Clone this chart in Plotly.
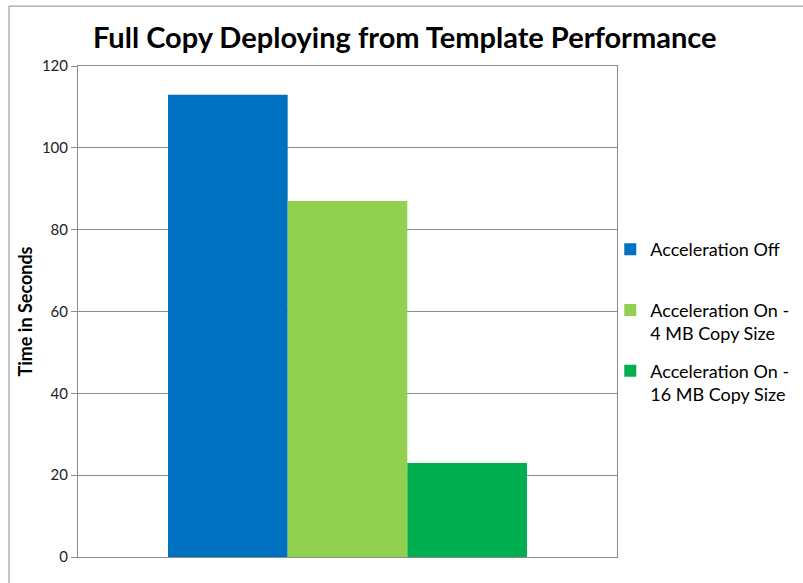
import plotly.graph_objects as go

categories = ["Full Copy"]
series_names = ["Acceleration Off<br>&nbsp;",
                "Acceleration On -<br>4 MB Copy Size",
                "Acceleration On -<br>16 MB Copy Size"]
series_values = [[113], [87], [23]]
series_colors = ["#0070C0", "#92D050", "#00B050"]
y_ticks = [0, 20, 40, 60, 80, 100, 120]

fig = go.Figure()
for i, (name, vals, col) in enumerate(zip(series_names, series_values, series_colors)):
    fig.add_trace(go.Bar(x=categories, y=vals, name=name, legendgroup=f"g{i}",
                         marker=dict(color=col, line=dict(width=0))))

fig.update_layout(
    width=803, height=583,
    barmode="group", bargap=0.334, bargroupgap=0,
    paper_bgcolor="white", plot_bgcolor="white",
    margin=dict(l=78, r=186, t=66, b=26, autoexpand=False),
    font=dict(family="Lato, Open Sans, sans-serif", color="#000000"),
    title=dict(text="<b>Full Copy Deploying from Template Performance</b>",
               x=0.504, xanchor="center", y=0.935, yanchor="middle",
               font=dict(size=29, family="Lato, sans-serif")),
    legend=dict(x=0.9875, xanchor="left", y=0.664, yanchor="top",
                font=dict(size=18), valign="top", bgcolor="rgba(0,0,0,0)",
                traceorder="grouped", tracegroupgap=11,
                itemwidth=30),
    showlegend=True,
)
fig.update_xaxes(showticklabels=False, ticks="", showline=True,
                 linecolor="#8c8c8c", linewidth=1, mirror=True)
fig.update_yaxes(range=[0, 120], tickvals=y_ticks, ticks="outside", ticklen=6,
                 tickcolor="#8c8c8c", showgrid=True, gridcolor="#8c8c8c",
                 gridwidth=1, showline=True, linecolor="#8c8c8c", mirror=True,
                 tickfont=dict(size=15, color="#222222"),
                 title=dict(text="<b>Time in Seconds</b>", font=dict(size=18),
                            standoff=4))

# chart area border (left and top visible)
fig.add_shape(type="rect", xref="paper", yref="paper",
              x0=-0.128, x1=1.5, y0=-0.2, y1=1.122,
              line=dict(color="#8c8c8c", width=1), layer="below")

fig.write_html("out.html", config={"displayModeBar": False},
               post_script="document.body.style.margin='0px';")
